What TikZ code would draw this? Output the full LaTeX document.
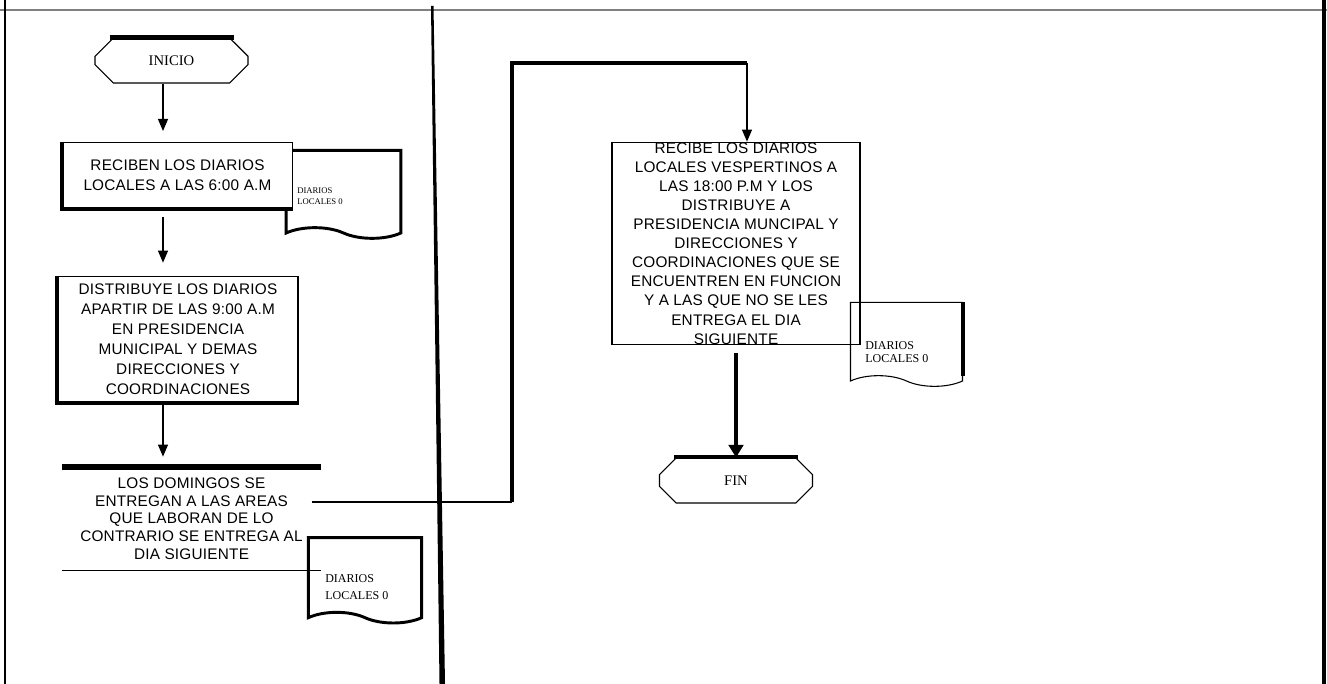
\documentclass[tikz,border=0pt]{standalone}
\usepackage{fontspec}
\setmainfont{Liberation Serif}
\newfontfamily\arialfont[LetterSpace=1.5]{Liberation Sans}
\usetikzlibrary{shapes.misc, shapes.symbols, arrows.meta, positioning, calc}

\begin{document}
\begin{tikzpicture}[
		x=0.75pt, y=-0.75pt,
		box/.style={draw, line width=0.8pt, align=center, inner sep=0pt, font=\arialfont\fontsize{11.5}{15}\selectfont},
		term/.style={draw, line width=0.8pt, chamfered rectangle, chamfered rectangle xsep=10pt, chamfered rectangle ysep=10pt, inner sep=0pt, minimum width=114.75pt, minimum height=33.75pt, font=\fontsize{11}{13}\selectfont},
		doc/.style={draw, tape, tape bend top=none, tape bend bottom=out and in, tape bend height=8pt, inner sep=0pt},
		doctxt/.style={anchor=west, align=left, inner sep=0pt},
		arr/.style={-{Triangle[length=9pt, width=7.5pt]}, line width=0.8pt},
		bigarr/.style={-{Triangle[length=9.5pt, width=11pt]}, line width=3pt},
		heavy/.style={line width=3pt}
	]
	\useasboundingbox (0,0) rectangle (1327,684);

	% marco y division
	\draw[gray, line width=0.8pt] (0,10) -- (1327,10);
	\draw[line width=1.2pt] (5,0) -- (5,684);
	\draw[line width=2.5pt] (1324,0) -- (1324,684);
	\fill (431,6) -- (433.5,6) -- (445,684) -- (439.5,684) -- cycle;

	% documentos
	\node[doc, line width=2.2pt, minimum width=86pt, minimum height=66pt] (d1) at (343.5,189) {};
	\node[doc, line width=2.2pt, minimum width=85pt, minimum height=64pt] (d3) at (365,575) {};
	\node[doc, minimum width=84pt, minimum height=63pt, line width=0.8pt] (d4) at (906.5,339) {};
	\draw[heavy] (d4.north east) -- (d4.south east);

	% columna izquierda
	\coordinate (col) at (163,0);
	\node[term] (ini) at (171.5,60.5) {INICIO};
	\draw[line width=3.5pt] ($(ini.north)+(-62,0)$) -- ($(ini.north)+(62,0)$);
	\node[box, fill=white, minimum width=173pt, minimum height=50pt] (b1) at (177.5,175.5) {RECIBEN LOS DIARIOS\\LOCALES A LAS 6:00 A.M};
	\draw[heavy] (b1.north west) -- (b1.south west) -- (b1.south east);
	\node[box, fill=white, minimum width=180pt, minimum height=95pt] (b2) at (178,339.5) {DISTRIBUYE LOS DIARIOS\\APARTIR DE LAS 9:00 A.M\\EN PRESIDENCIA\\MUNICIPAL Y DEMAS\\DIRECCIONES Y\\COORDINACIONES};
	\draw[heavy] (b2.north west) -- (b2.south west) -- (b2.south east);
	\node[box, draw=none, minimum width=193pt, minimum height=77pt, font=\arialfont\fontsize{11.5}{13.3}\selectfont] (b3) at (191.5,518.5) {LOS DOMINGOS SE\\ENTREGAN A LAS AREAS\\QUE LABORAN DE LO\\CONTRARIO SE ENTREGA AL\\DIA SIGUIENTE};
	\draw[line width=4.5pt] (b3.north west) -- (b3.north east);
	\draw[line width=0.8pt] (b3.south west) -- (b3.south east);

	\draw[arr, shorten >=8pt] (ini.south -| col) -- (b1.north -| col);
	\draw[arr, shorten <=6pt, shorten >=9.75pt] (b1.south -| col) -- (b2.north -| col);
	\draw[arr, shorten >=7.5pt] (b2.south -| col) -- (b3.north -| col);

	% columna derecha
	\node[box, minimum width=186pt, minimum height=152pt, font=\arialfont\fontsize{11.5}{14.3}\selectfont] (b4) at (736,243.5) {RECIBE LOS DIARIOS\\LOCALES VESPERTINOS A\\LAS 18:00 P.M Y LOS\\DISTRIBUYE A\\PRESIDENCIA MUNCIPAL Y\\DIRECCIONES Y\\COORDINACIONES QUE SE\\ENCUENTREN EN FUNCION\\Y A LAS QUE NO SE LES\\ENTREGA EL DIA\\SIGUIENTE};
	\node[term] (fin) at (736,480.5) {FIN};
	\draw[line width=3pt] ($(fin.north)+(-62,0)$) -- ($(fin.north)+(62,0)$);

	\coordinate (k1) at (512,502);
	\coordinate (k2) at (512,63);
	\coordinate (k3) at (747,63);
	\draw[line width=0.8pt] ($(b3.east |- k1)+(-9,0)$) -- (k1);
	\draw[heavy] (k1) -- (k2) -- (k3);
	\draw[arr] (k3) -- (k3 |- b4.north);
	\draw[bigarr, shorten <=6pt] (b4.south) -- (fin.north);

	% textos de documentos
	\node[doctxt, font=\fontsize{6.5}{8.2}\selectfont] (d1t) at (297,196) {DIARIOS\\LOCALES 0};
	\node[doctxt, font=\fontsize{9}{12.75}\selectfont] (d3t) at (325,587) {DIARIOS\\LOCALES 0};
	\node[doctxt, font=\fontsize{9}{10}\selectfont] (d4t) at (865,352) {DIARIOS\\LOCALES 0};
\end{tikzpicture}
\end{document}
